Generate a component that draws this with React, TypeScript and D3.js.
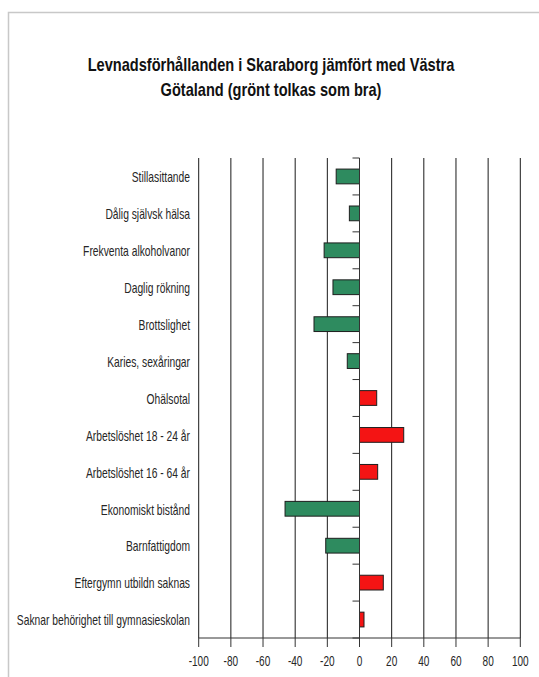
import React from "react";
import * as d3 from "d3";

const categories: string[] = [
  "Stillasittande",
  "Dålig självsk hälsa",
  "Frekventa alkoholvanor",
  "Daglig rökning",
  "Brottslighet",
  "Karies, sexåringar",
  "Ohälsotal",
  "Arbetslöshet 18 - 24 år",
  "Arbetslöshet 16 - 64 år",
  "Ekonomiskt bistånd",
  "Barnfattigdom",
  "Eftergymn utbildn saknas",
  "Saknar behörighet till gymnasieskolan",
];
const values: number[] = [-14.5, -6.3, -22, -16.5, -28.3, -7.6, 10.7, 27.5, 11.3, -46.3, -21, 14.8, 2.8];
const xTicks: number[] = [-100, -80, -60, -40, -20, 0, 20, 40, 60, 80, 100];
const titleLines: string[] = [
  "Levnadsförhållanden i Skaraborg jämfört med Västra",
  "Götaland (grönt tolkas som bra)",
];

const W = 539;
const H = 677;
const FONT = "'Liberation Sans', Arial, sans-serif";

export default function App() {
  const x = d3.scaleLinear().domain([-100, 100]).range([198.7, 520.3]);
  const y = d3
    .scaleBand<string>()
    .domain(categories)
    .range([158, 638])
    .paddingInner(0.6)
    .paddingOuter(0.3);
  const step = y.step();
  const top = 158;
  const bottom = 638;
  const boundaries = d3.range(categories.length + 1).map((i) => top + i * step);

  return (
    <svg
      width={W}
      height={H}
      style={{ position: "absolute", left: 0, top: 0, background: "#fff" }}
      fontFamily={FONT}
    >
      <rect x={0} y={0} width={W} height={H} fill="#fff" />
      {/* frame */}
      <path d={`M8.5,${H + 5} V12.5 H${W + 5}`} fill="none" stroke="#c8c8c8" strokeWidth={1.5} />

      {/* title */}
      {titleLines.map((t, i) => (
        <text
          key={i}
          transform={`translate(271,${71 + i * 25}) scale(0.81,1)`}
          textAnchor="middle"
          fontSize={18}
          fill="#111"
          fontWeight={700}
        >
          {t}
        </text>
      ))}

      {/* grid lines */}
      {xTicks.map((t) => (
        <line key={"g" + t} x1={x(t)} x2={x(t)} y1={top} y2={bottom} stroke="#1a1a1a" strokeWidth={1} />
      ))}

      {/* bars */}
      {values.map((v, i) => {
        const c = categories[i];
        const x0 = Math.min(x(0), x(v));
        const w = Math.abs(x(v) - x(0));
        return (
          <rect
            key={c}
            x={x0}
            y={y(c)!}
            width={w}
            height={y.bandwidth()}
            fill={v < 0 ? "#2e8b5f" : "#f41414"}
            stroke="#1e1e1e"
            strokeWidth={1}
          />
        );
      })}

      {/* y axis at zero */}
      <line x1={x(0)} x2={x(0)} y1={top} y2={bottom} stroke="#333" strokeWidth={1} />
      {boundaries.map((b, i) => (
        <line key={"yt" + i} x1={x(0) - 7} x2={x(0)} y1={b} y2={b} stroke="#333" strokeWidth={1} />
      ))}

      {/* category labels */}
      {categories.map((c) => (
        <text
          key={"l" + c}
          transform={`translate(190,${y(c)! + y.bandwidth() / 2 + 5.8}) scale(0.715,1)`}
          textAnchor="end"
          fontSize={14.4}
          fill="#262626"
        >
          {c}
        </text>
      ))}

      {/* x axis */}
      <line x1={x(-100)} x2={x(100)} y1={bottom} y2={bottom} stroke="#333" strokeWidth={1} />
      {xTicks.map((t) => (
        <g key={"xt" + t}>
          <line x1={x(t)} x2={x(t)} y1={bottom} y2={bottom + 9} stroke="#333" strokeWidth={1} />
          <text
            transform={`translate(${x(t)},666) scale(0.67,1)`}
            textAnchor="middle"
            fontSize={15}
            fill="#262626"
          >
            {t}
          </text>
        </g>
      ))}
    </svg>
  );
}
